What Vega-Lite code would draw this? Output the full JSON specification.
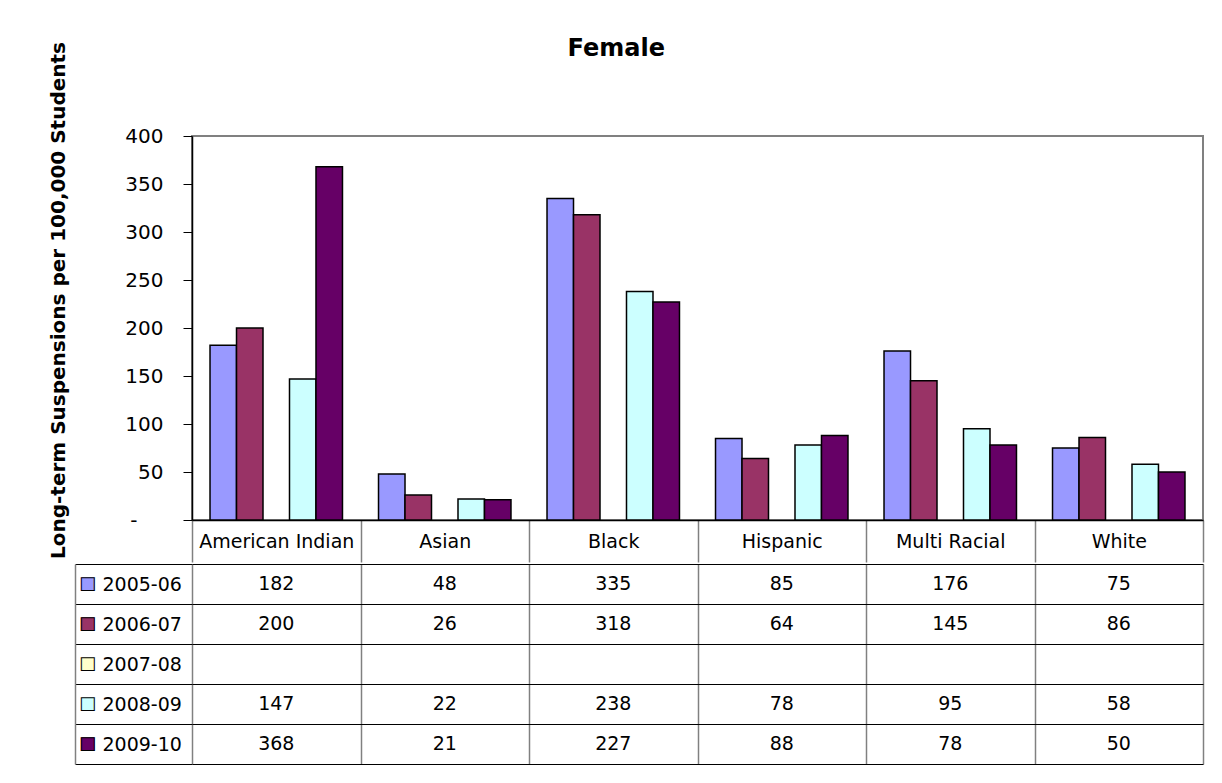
{
  "$schema": "https://vega.github.io/schema/vega-lite/v6.json",
  "background": "white",
  "padding": {"left": 47, "top": 35, "right": 10, "bottom": 10},
  "config": {"font": "DejaVu Sans", "view": {"stroke": null}},
  "datasets": {
    "d": [
      {"cat": "American Indian", "year": "2005-06", "value": 182},
      {"cat": "American Indian", "year": "2006-07", "value": 200},
      {"cat": "American Indian", "year": "2008-09", "value": 147},
      {"cat": "American Indian", "year": "2009-10", "value": 368},
      {"cat": "Asian", "year": "2005-06", "value": 48},
      {"cat": "Asian", "year": "2006-07", "value": 26},
      {"cat": "Asian", "year": "2008-09", "value": 22},
      {"cat": "Asian", "year": "2009-10", "value": 21},
      {"cat": "Black", "year": "2005-06", "value": 335},
      {"cat": "Black", "year": "2006-07", "value": 318},
      {"cat": "Black", "year": "2008-09", "value": 238},
      {"cat": "Black", "year": "2009-10", "value": 227},
      {"cat": "Hispanic", "year": "2005-06", "value": 85},
      {"cat": "Hispanic", "year": "2006-07", "value": 64},
      {"cat": "Hispanic", "year": "2008-09", "value": 78},
      {"cat": "Hispanic", "year": "2009-10", "value": 88},
      {"cat": "Multi Racial", "year": "2005-06", "value": 176},
      {"cat": "Multi Racial", "year": "2006-07", "value": 145},
      {"cat": "Multi Racial", "year": "2008-09", "value": 95},
      {"cat": "Multi Racial", "year": "2009-10", "value": 78},
      {"cat": "White", "year": "2005-06", "value": 75},
      {"cat": "White", "year": "2006-07", "value": 86},
      {"cat": "White", "year": "2008-09", "value": 58},
      {"cat": "White", "year": "2009-10", "value": 50}
    ]
  },
  "spacing": -16,
  "vconcat": [
    {
      "width": 1011,
      "height": 384,
      "title": {"text": "Female", "font": "DejaVu Sans", "fontSize": 24, "fontWeight": "bold", "color": "black", "anchor": "middle", "frame": "bounds", "baseline": "alphabetic", "offset": -38, "dx": -10},
      "view": {"stroke": "#808080", "strokeWidth": 2},
      "data": {"name": "d"},
      "mark": {"type": "bar", "stroke": "black", "strokeWidth": 1.5},
      "encoding": {
        "x": {
          "field": "cat", "type": "nominal",
          "scale": {"domain": ["American Indian", "Asian", "Black", "Hispanic", "Multi Racial", "White"], "paddingInner": 0, "paddingOuter": 0},
          "axis": {"title": null, "tickBand": "extent", "tickSize": 42, "tickColor": "#808080", "tickWidth": 1.5, "domainColor": "black", "domainWidth": 1.5, "labelFontSize": 19, "labelColor": "black", "labelAngle": 0, "labelPadding": -21, "labelBaseline": "middle", "grid": false, "labelOverlap": false}
        },
        "xOffset": {
          "field": "year", "type": "nominal",
          "scale": {"domain": ["2005-06", "2006-07", "2007-08", "2008-09", "2009-10"], "paddingInner": 0, "paddingOuter": 0.68}
        },
        "y": {
          "field": "value", "type": "quantitative",
          "scale": {"domain": [0, 400]},
          "axis": {"title": "Long-term Suspensions per 100,000 Students", "titleFont": "DejaVu Sans", "titleFontSize": 20, "titleFontWeight": "bold", "titleColor": "black", "titleY": 164, "titlePadding": 56, "values": [0, 50, 100, 150, 200, 250, 300, 350, 400], "labelExpr": "datum.value === 0 ? '-' : datum.label", "labelFontSize": 20, "labelColor": "black", "labelPadding": {"condition": {"test": "datum.value === 0", "value": 46}, "value": 20}, "tickSize": 9, "tickColor": "black", "domainColor": "black", "domainWidth": 1.5, "grid": false}
        },
        "color": {
          "field": "year", "type": "nominal",
          "scale": {"domain": ["2005-06", "2006-07", "2007-08", "2008-09", "2009-10"], "range": ["#9999FF", "#993366", "#FFFFCC", "#CCFFFF", "#660066"]},
          "legend": null
        }
      }
    },
    {
      "width": 1011,
      "height": 200,
      "data": {"name": "d"},
      "view": {"stroke": null},
      "resolve": {"axis": {"y": "independent"}},
      "layer": [
        {
          "mark": {"type": "text", "fontSize": 19, "color": "black"},
          "encoding": {
            "x": {
              "field": "cat", "type": "nominal",
              "scale": {"domain": ["American Indian", "Asian", "Black", "Hispanic", "Multi Racial", "White"], "paddingInner": 0, "paddingOuter": 0},
              "axis": {"title": null, "labels": false, "ticks": false, "domain": false, "grid": true, "gridColor": "#808080", "gridWidth": 1.5, "gridOpacity": 1, "tickBand": "extent"}
            },
            "y": {
              "field": "year", "type": "nominal",
              "scale": {"domain": ["2005-06", "2006-07", "2007-08", "2008-09", "2009-10"], "paddingInner": 0, "paddingOuter": 0},
              "axis": {"title": null, "orient": "left", "tickBand": "extent", "tickSize": 117, "tickColor": "black", "tickWidth": 1, "domain": false, "grid": true, "gridColor": "black", "gridWidth": 1, "gridOpacity": 1, "labelFontSize": 19, "labelColor": "black", "labelAlign": "left", "labelPadding": -27, "labelBaseline": "middle", "labelOverlap": false}
            },
            "text": {"field": "value", "type": "quantitative"}
          }
        },
        {
          "mark": {"type": "text", "text": ""},
          "encoding": {
            "y": {
              "field": "year", "type": "nominal",
              "axis": {"title": null, "orient": "left", "offset": 117, "ticks": false, "tickSize": 0, "domain": true, "domainColor": "#808080", "domainWidth": 1.5, "grid": false, "labelExpr": "'■'", "labelFontSize": 18, "labelAlign": "center", "labelPadding": -12, "labelBaseline": "middle", "labelOverlap": false,
                "labelColor": {"condition": [{"test": "datum.value === '2005-06'", "value": "#9999FF"}, {"test": "datum.value === '2006-07'", "value": "#993366"}, {"test": "datum.value === '2007-08'", "value": "#FFFFCC"}, {"test": "datum.value === '2008-09'", "value": "#CCFFFF"}], "value": "#660066"}}
            }
          }
        },
        {
          "mark": {"type": "text", "text": ""},
          "encoding": {
            "y": {
              "field": "year", "type": "nominal",
              "axis": {"title": null, "orient": "left", "offset": 117, "ticks": false, "tickSize": 0, "domain": false, "grid": false, "labelExpr": "'□'", "labelFontSize": 18, "labelAlign": "center", "labelPadding": -12, "labelBaseline": "middle", "labelOverlap": false, "labelColor": "black"}
            }
          }
        }
      ]
    }
  ]
}
